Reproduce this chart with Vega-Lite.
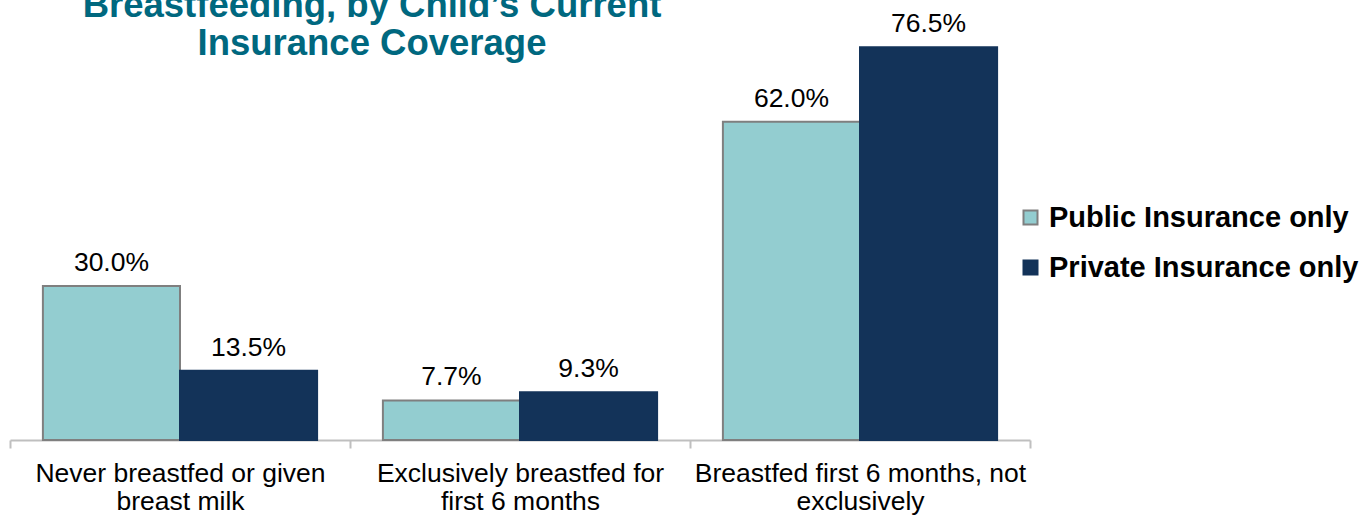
{
  "$schema": "https://vega.github.io/schema/vega-lite/v6.json",
  "width": 1020,
  "height": 440,
  "autosize": {"type": "none"},
  "padding": {"left": 10, "top": 0, "right": 329, "bottom": 77},
  "background": "white",
  "config": {"view": {"stroke": null}, "font": "Liberation Sans"},
  "title": {
    "text": ["Breastfeeding, by Child’s Current", "Insurance Coverage"],
    "anchor": "middle",
    "frame": "group",
    "offset": 0,
    "baseline": "alphabetic",
    "dy": 91,
    "dx": -148,
    "fontSize": 36.5,
    "fontWeight": "bold",
    "color": "#00687F",
    "lineHeight": 38,
    "font": "Liberation Sans"
  },
  "data": {
    "values": [
      {"category": "Never breastfed or given|breast milk", "insurance": "Public Insurance only", "value": 0.300},
      {"category": "Never breastfed or given|breast milk", "insurance": "Private Insurance only", "value": 0.135},
      {"category": "Exclusively breastfed for|first 6 months", "insurance": "Public Insurance only", "value": 0.077},
      {"category": "Exclusively breastfed for|first 6 months", "insurance": "Private Insurance only", "value": 0.093},
      {"category": "Breastfed first 6 months, not|exclusively", "insurance": "Public Insurance only", "value": 0.620},
      {"category": "Breastfed first 6 months, not|exclusively", "insurance": "Private Insurance only", "value": 0.765}
    ]
  },
  "encoding": {
    "x": {
      "field": "category",
      "type": "nominal",
      "sort": null,
      "scale": {"paddingInner": 0, "paddingOuter": 0},
      "axis": {
        "title": null,
        "labelExpr": "split(datum.label, '|')",
        "labelAngle": 0,
        "labelFont": "Liberation Sans",
        "labelFontSize": 26.5,
        "labelColor": "#000000",
        "labelLineHeight": 28,
        "labelBaseline": "alphabetic",
        "labelPadding": 33,
        "labelLimit": 0,
        "tickBand": "extent",
        "tickSize": 8,
        "tickColor": "#BFBFBF",
        "tickWidth": 2,
        "domainColor": "#BFBFBF",
        "domainWidth": 2,
        "grid": false
      }
    },
    "xOffset": {
      "field": "insurance",
      "type": "nominal",
      "sort": null,
      "scale": {"paddingInner": 0, "paddingOuter": 0.24}
    },
    "y": {
      "field": "value",
      "type": "quantitative",
      "scale": {"domain": [0, 0.857], "nice": false},
      "axis": null
    }
  },
  "layer": [
    {
      "mark": {"type": "bar", "strokeWidth": 2},
      "encoding": {
        "fill": {
          "field": "insurance",
          "type": "nominal",
          "sort": null,
          "scale": {"domain": ["Public Insurance only", "Private Insurance only"], "range": ["#93CDD0", "#133359"]},
          "legend": {
            "title": null,
            "orient": "none",
            "legendX": 1006,
            "legendY": 203,
            "symbolType": "square",
            "symbolSize": 196,
            "symbolStrokeWidth": 2,
            "labelFont": "Liberation Sans",
            "labelFontSize": 29,
            "labelFontWeight": "bold",
            "labelColor": "#000000",
            "labelOffset": 4,
            "labelLimit": 0,
            "rowPadding": 20,
            "padding": 0
          }
        },
        "stroke": {
          "field": "insurance",
          "type": "nominal",
          "sort": null,
          "scale": {"domain": ["Public Insurance only", "Private Insurance only"], "range": ["#7F7F7F", "#133359"]},
          "legend": {
            "title": null,
            "orient": "none",
            "legendX": 1006,
            "legendY": 203,
            "symbolType": "square",
            "symbolSize": 196,
            "symbolStrokeWidth": 2,
            "labelFont": "Liberation Sans",
            "labelFontSize": 29,
            "labelFontWeight": "bold",
            "labelColor": "#000000",
            "labelOffset": 4,
            "labelLimit": 0,
            "rowPadding": 20,
            "padding": 0
          }
        }
      }
    },
    {
      "mark": {"type": "text", "baseline": "alphabetic", "dy": -15, "fontSize": 26.5, "color": "#000000", "font": "Liberation Sans"},
      "encoding": {
        "text": {"field": "value", "type": "quantitative", "format": ".1%"}
      }
    }
  ]
}
